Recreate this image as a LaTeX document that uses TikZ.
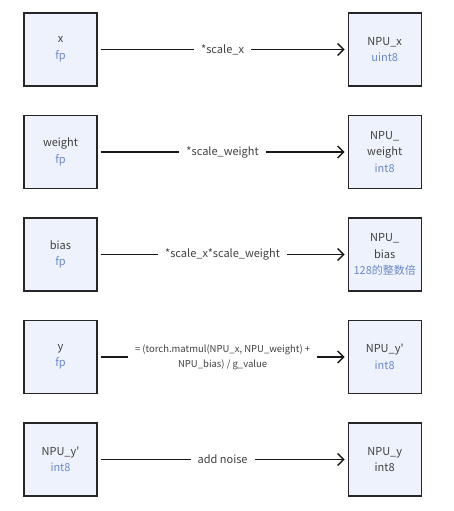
\documentclass[tikz,border=0pt]{standalone}
\usepackage{fontspec}
\setmainfont{Noto Sans CJK SC}
\usetikzlibrary{arrows.meta,positioning}
\definecolor{boxfill}{HTML}{EEF2FC}
\definecolor{typeblue}{HTML}{6A8AC8}
\definecolor{txtgray}{HTML}{404040}

\begin{document}
\begin{tikzpicture}[
    x=1pt, y=-1pt,
    node distance=250pt,
    every node/.style={font=\fontsize{11}{16.5}\selectfont, text=txtgray},
    block/.style={rectangle, draw=black!85, line width=1.2pt, fill=boxfill, align=center, minimum width=73pt, minimum height=73pt, inner sep=0pt},
    arrow/.style={-{Straight Barb[length=6pt,width=12pt,line width=1.4pt]}, line width=1.2pt, black!90, shorten <=3pt, shorten >=3pt},
    op/.style={fill=white, align=center, inner xsep=7pt, inner ysep=2pt}
]
\useasboundingbox (0,0) rectangle (454,511);

% left column
\node[block] (x) at (60.5,49.5) {x\\\textcolor{typeblue}{fp}};
\node[block] (weight) at (60.5,152) {weight\\\textcolor{typeblue}{fp}};
\node[block] (bias) at (60.5,254.5) {bias\\\textcolor{typeblue}{fp}};
\node[block] (y) at (60.5,357) {y\\\textcolor{typeblue}{fp}};
\node[block] (npuyq) at (60.5,459.5) {NPU\_y\textquotesingle\\\textcolor{typeblue}{int8}};

% right column
\node[block, right=of x] (npux) {NPU\_x\\\textcolor{typeblue}{uint8}};
\node[block, right=of weight] (npuweight) {NPU\_\\weight\\\textcolor{typeblue}{int8}};
\node[block, right=of bias] (npubias) {NPU\_\\bias\\\textcolor{typeblue}{128的整数倍}};
\node[block, right=of y] (npuyq2) {NPU\_y\textquotesingle\\\textcolor{typeblue}{int8}};
\node[block, right=of npuyq] (npuy) {NPU\_y\\int8};

\draw[arrow] (x) -- node[op] {*scale\_x} (npux);
\draw[arrow] (weight) -- node[op] {*scale\_weight} (npuweight);
\draw[arrow] (bias) -- node[op] {*scale\_x*scale\_weight} (npubias);
\draw[arrow] (y) -- node[op, font=\fontsize{9.5}{15}\selectfont] {= (torch.matmul(NPU\_x, NPU\_weight) +\\NPU\_bias) / g\_value} (npuyq2);
\draw[arrow] (npuyq) -- node[op] {add noise} (npuy);

\end{tikzpicture}
\end{document}
